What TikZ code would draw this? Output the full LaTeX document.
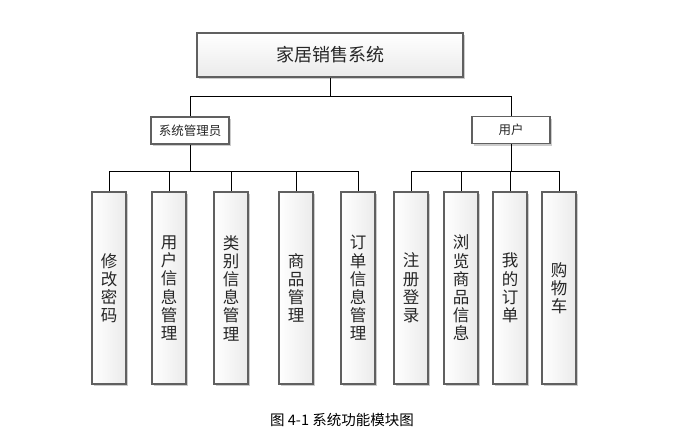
\documentclass[tikz,border=0pt]{standalone}
\usepackage{fontspec}
\setmainfont{Noto Sans CJK SC}
\usetikzlibrary{shadows}
\definecolor{boxline}{HTML}{606060}
\definecolor{txt}{HTML}{262626}
\tikzset{
  conn/.style={draw=black, line width=0.9pt},
  boxbase/.style={draw=boxline, line width=1.3pt, text=txt, inner sep=0pt,
    drop shadow={shadow xshift=2pt, shadow yshift=-2pt, fill=black!20, opacity=1}},
  topbox/.style={boxbase, top color=white, bottom color=black!8,
    minimum width=266pt, minimum height=44pt, font=\fontsize{18}{20}\selectfont},
  rolebox/.style={boxbase, fill=white, minimum width=78pt, minimum height=27pt,
    font=\fontsize{12.5}{14}\selectfont},
  leafbox/.style={boxbase, left color=white, right color=black!8,
    minimum width=34pt, minimum height=192pt, align=center,
    font=\fontsize{16.5}{18.2}\selectfont},
  captiontext/.style={text=black, font=\fontsize{14.5}{16}\selectfont}
}
\begin{document}
\begin{tikzpicture}[x=1pt,y=-1pt]
\useasboundingbox (0,0) rectangle (681,440);
\fill[white] (0,0) rectangle (681,440);

\node[topbox] (top) at (330,55) {家居销售系统};
\node[rolebox] (admin) at (190,130.5) {系统管理员};
\node[rolebox] (user) at (511,130) {用户};

\node[leafbox] (l1) at (109,288) {修\\改\\密\\码};
\node[leafbox] (l2) at (169,288) {用\\户\\信\\息\\管\\理};
\node[leafbox] (l3) at (231,288) {类\\别\\信\\息\\管\\理};
\node[leafbox] (l4) at (296,288) {商\\品\\管\\理};
\node[leafbox] (l5) at (358,288) {订\\单\\信\\息\\管\\理};
\node[leafbox] (l6) at (411,288) {注\\册\\登\\录};
\node[leafbox] (l7) at (461,288) {浏\\览\\商\\品\\信\\息};
\node[leafbox] (l8) at (510,288) {我\\的\\订\\单};
\node[leafbox] (l9) at (559,288) {购\\物\\车};

\coordinate (jtop) at (330,96);
\coordinate (jadm) at (190,171);
\coordinate (jusr) at (511,171);

% top level
\draw[conn] (top.south) -- (jtop);
\draw[conn] (admin.north) |- (user.north |- jtop) -- (user.north);

% admin branch
\draw[conn] (admin.south) -- (jadm);
\draw[conn] (l1.north) |- (l5.north |- jadm) -- (l5.north);
\foreach \n in {l2,l3,l4} \draw[conn] (\n.north) -- (\n.north |- jadm);

% user branch
\draw[conn] (user.south) -- (jusr);
\draw[conn] (l6.north) |- (l9.north |- jusr) -- (l9.north);
\foreach \n in {l7,l8} \draw[conn] (\n.north) -- (\n.north |- jusr);

\node[captiontext] (cap) at (342,420) {图 4-1 系统功能模块图};
\end{tikzpicture}
\end{document}
